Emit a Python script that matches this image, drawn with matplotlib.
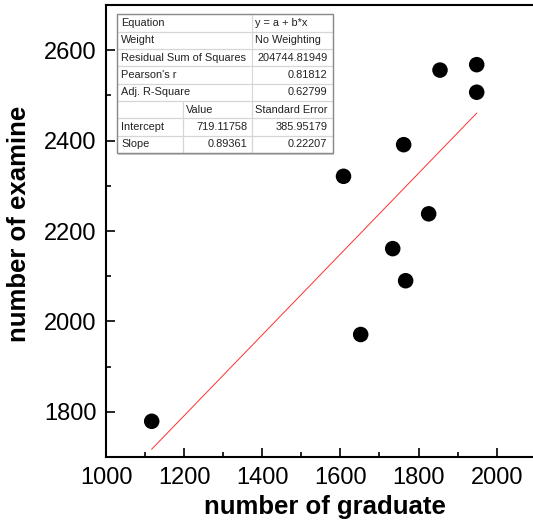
import numpy as np
import matplotlib
matplotlib.use("Agg")
import matplotlib.pyplot as plt
from matplotlib.patches import Rectangle
from matplotlib.ticker import MultipleLocator

plt.rcParams['font.family'] = ['Liberation Sans', 'DejaVu Sans']

# data
graduate = [1117, 1608, 1652, 1734, 1762, 1767, 1826, 1855, 1949, 1949]
examine = [1779, 2321, 1971, 2161, 2391, 2090, 2238, 2556, 2568, 2507]
intercept = 719.11758
slope = 0.89361

table_rows = [
    ["Equation", "", "y = a + b*x"],
    ["Weight", "", "No Weighting"],
    ["Residual Sum of Squares", "", "204744.81949"],
    ["Pearson's r", "", "0.81812"],
    ["Adj. R-Square", "", "0.62799"],
    ["", "Value", "Standard Error"],
    ["Intercept", "719.11758", "385.95179"],
    ["Slope", "0.89361", "0.22207"],
]

W, H = 533, 520
fig = plt.figure(figsize=(W / 100, H / 100), dpi=100)
ax_l, ax_r, ax_t, ax_b = 106, 535.7, 5, 457
ax = fig.add_axes([ax_l / W, 1 - ax_b / H, (ax_r - ax_l) / W, (ax_b - ax_t) / H])

ax.scatter(graduate, examine, s=125, color='black', zorder=3, edgecolors='none')
xf = np.array([min(graduate), max(graduate)])
ax.plot(xf, intercept + slope * xf, color='#ff3030', lw=0.7, zorder=2)

ax.set_xlim(1000, 2100)
ax.set_ylim(1700, 2700)
ax.xaxis.set_major_locator(MultipleLocator(200))
ax.xaxis.set_minor_locator(MultipleLocator(100))
ax.yaxis.set_major_locator(MultipleLocator(200))
ax.yaxis.set_minor_locator(MultipleLocator(100))
ax.set_yticks([1800, 2000, 2200, 2400, 2600])
ax.tick_params(which='major', direction='in', length=6.5, width=1.2, labelsize=17, pad=7,
               top=False, right=False)
ax.tick_params(which='minor', direction='in', length=3.6, width=1.2, top=False, right=False)
for s in ax.spines.values():
    s.set_linewidth(1.5)

fig.text(18.7 / W, 1 - 223.6 / H, "number of examine", rotation=90, ha='center', va='center',
         fontsize=18.5, fontweight='bold')
fig.text(324.5 / W, 1 - 514 / H, "number of graduate", ha='center', va='baseline',
         fontsize=18.5, fontweight='bold')

# parameter table
tx0 = (116.7 - ax_l) / (ax_r - ax_l)
tx1 = (332.6 - ax_l) / (ax_r - ax_l)
ty1 = (ax_b - 14.3) / (ax_b - ax_t)
ty0 = (ax_b - 153) / (ax_b - ax_t)
colw = [65.9, 69.1, 80.9]
tot = sum(colw)

# shadow and white background
ax.add_patch(Rectangle((tx0 + 0.004, ty0 - 0.005), tx1 - tx0, ty1 - ty0, transform=ax.transAxes,
                       facecolor='#cfcfcf', edgecolor='none', zorder=4))
ax.add_patch(Rectangle((tx0, ty0), tx1 - tx0, ty1 - ty0, transform=ax.transAxes,
                       facecolor='white', edgecolor='none', zorder=4.5))

tbl = ax.table(cellText=table_rows, colWidths=[c / tot for c in colw],
               bbox=[tx0, ty0, tx1 - tx0, ty1 - ty0], cellLoc='left', zorder=5)
tbl.auto_set_font_size(False)
tbl.set_fontsize(7.9)
for (r, c), cell in tbl.get_celld().items():
    cell.set_edgecolor('#d6d6d6')
    cell.set_linewidth(0.8)
    cell.set_facecolor('none')
    cell.set_fill(False)
    cell.get_text().set_color('#222222')
    if r < 5:
        if c == 0:
            cell.visible_edges = 'BTL'
        elif c == 1:
            cell.visible_edges = 'BT'
    if c == 0:
        cell.PAD = 0.07
        cell.get_text().set_ha('left')
    elif c == 1:
        if r == 5:
            cell.PAD = 0.05
            cell.get_text().set_ha('left')
        else:
            cell.PAD = 0.06
            cell.get_text().set_ha('right')
    else:
        if r in (0, 1, 5):
            cell.PAD = 0.045
            cell.get_text().set_ha('left')
        else:
            cell.PAD = 0.065
            cell.get_text().set_ha('right')

# outer border
ax.add_patch(Rectangle((tx0, ty0), tx1 - tx0, ty1 - ty0, transform=ax.transAxes,
                       facecolor='none', edgecolor='#8a8a8a', lw=1.0, zorder=6))

fig.savefig("out.png", dpi=100)
